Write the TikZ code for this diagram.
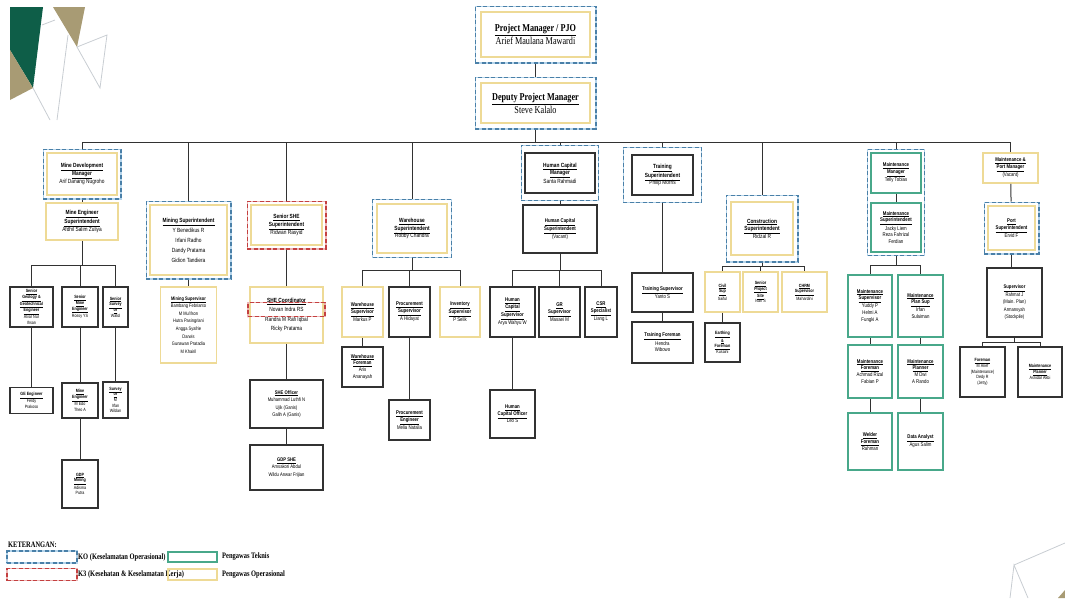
\documentclass[tikz,border=0pt]{standalone}
\usepackage{fontspec}
\setmainfont{Liberation Serif}
\newfontfamily\narrowsans[FakeStretch=0.8]{Liberation Sans}
\newfontfamily\narrowserif[FakeStretch=0.78]{Liberation Serif}
\usetikzlibrary{positioning,fit}
\definecolor{koblue}{RGB}{74,128,168}
\definecolor{kolight}{RGB}{180,212,235}
\definecolor{kred}{RGB}{196,64,64}
\definecolor{kredlight}{RGB}{236,180,180}
\definecolor{tkgreen}{RGB}{72,168,138}
\definecolor{opyellow}{RGB}{238,218,150}
\definecolor{boxgray}{RGB}{50,50,50}
\definecolor{decogreen}{RGB}{14,94,72}
\definecolor{decokhaki}{RGB}{168,155,116}
\definecolor{decoline}{RGB}{200,205,210}
\newcommand{\tpfont}{\narrowserif\fontsize{10.5}{13}\selectfont}
\newcommand{\lgdfont}{\narrowserif\fontsize{8.3}{10}\selectfont\bfseries}
\newcommand{\hdfont}{\narrowsans\fontsize{6}{7.6}\selectfont}
\newcommand{\smfont}{\narrowsans\fontsize{5.4}{6.9}\selectfont}
\newcommand{\xsfont}{\narrowsans\fontsize{4.6}{5.7}\selectfont}
\newcommand{\ttl}[1]{\textbf{\underline{#1}}}

\begin{document}
\begin{tikzpicture}[
  x=1pt, y=-1pt,
  box/.style={draw, fill=white, align=center, inner sep=1pt},
  ybox/.style={box, draw=opyellow, line width=1.6pt},
  gbox/.style={box, draw=tkgreen, line width=1.6pt},
  kbox/.style={box, draw=boxgray, line width=1.3pt},
  ko/.style={draw=koblue, dash pattern=on 4pt off 2.5pt, line width=1.4pt, inner sep=3pt,
    preaction={draw=kolight, line width=1.4pt, solid}},
  kthree/.style={draw=kred, dash pattern=on 4pt off 2.5pt, line width=1.4pt, inner sep=3pt,
    preaction={draw=kredlight, line width=1.4pt, solid}},
  link/.style={draw=boxgray, line width=1pt}
]
\useasboundingbox (0,0) rectangle (1065,598);

% corner decoration
\fill[decogreen] (10,7) -- (43,7) -- (33,88) -- (10,50) -- cycle;
\fill[decokhaki] (10,50) -- (33,88) -- (10,100) -- cycle;
\fill[decokhaki] (53,7) -- (85,7) -- (77,47) -- cycle;
\draw[decoline, line width=0.8pt] (33,88) -- (50,120) (68,35) -- (57,120) (42,25) -- (55,20)
  (77,47) -- (107,35) -- (100,88) -- cycle;
\draw[decoline, line width=0.8pt] (1010,598) -- (1014,565) -- (1028,598) (1014,565) -- (1065,543);
\fill[decokhaki] (1058,598) -- (1065,590) -- (1065,598) -- cycle;

% top
\node[ybox, minimum width=109pt, minimum height=45pt, font=\tpfont] (pm) at (535.5,34.5)
  {\ttl{Project Manager / PJO}\\Arief Maulana Mawardi};
\node[ko, fit=(pm), inner sep=5pt] (pmko) {};
\node[ybox, minimum width=109pt, minimum height=40pt, font=\tpfont] (dep) at (535.5,103)
  {\ttl{Deputy Project Manager}\\Steve Kalalo};
\node[ko, fit=(dep), inner sep=5pt] (depko) {};

% mine development
\node[ybox, minimum width=70pt, minimum height=42pt, font=\hdfont] (mdm) at (82,174)
  {\ttl{Mine Development}\\\ttl{Manager}\\Arif Danang Nugroho};
\node[ko, fit=(mdm)] (mdmko) {};
\node[ybox, minimum width=72pt, minimum height=37pt, font=\hdfont] (mes) at (82,221.5)
  {\ttl{Mine Engineer}\\\ttl{Superintendent}\\Afdhil Salim Zuliya};
\node[kbox, minimum width=43pt, minimum height=40pt, font=\xsfont] (sgge) at (31.5,307)
  {\ttl{Senior}\\\ttl{Geology \&}\\\ttl{Geotechnical}\\\ttl{Engineer}\\Alvar Nur\\Ihsan};
\node[kbox, minimum width=36pt, minimum height=40pt, font=\xsfont] (sme) at (80,307)
  {\ttl{Senior}\\\ttl{Mine}\\\ttl{Engineer}\\Rossy YS};
\node[kbox, minimum width=25pt, minimum height=40pt, font=\xsfont] (ssv) at (115.5,307)
  {\ttl{Senior}\\\ttl{Survey}\\\ttl{or}\\Walid};
\node[kbox, minimum width=43pt, minimum height=26pt, font=\xsfont] (gee) at (31.5,400.5)
  {\ttl{GE Engineer}\\Ferdy\\Prakoso};
\node[kbox, minimum width=36pt, minimum height=35pt, font=\xsfont] (mne) at (80,400.5)
  {\ttl{Mine}\\\ttl{Engineer}\\M Edo\\Theo A};
\node[kbox, minimum width=25pt, minimum height=36pt, font=\xsfont] (svy) at (115.5,400)
  {\ttl{Survey}\\\ttl{or}\\M\\Irfan\\Wildan};
\node[kbox, minimum width=36pt, minimum height=48pt, font=\xsfont] (gdpm) at (80,484)
  {\ttl{GDP}\\\ttl{Mining}\\Adisma\\Putra};

% mining
\node[ybox, minimum width=77pt, minimum height=70pt, font={\narrowsans\fontsize{6}{10}\selectfont}] (msi) at (188.5,240)
  {\ttl{Mining Superintendent}\\Y Benedikus R\\Irfani Radho\\Dandy Pratama\\Gidion Tandiera};
\node[ko, fit=(msi)] (msiko) {};
\node[ybox, minimum width=56pt, minimum height=76pt, font={\narrowsans\fontsize{5}{7.6}\selectfont}] (msv) at (188.5,325)
  {\ttl{Mining Supervisor}\\Bambang Febrianto\\M Mu'ifson\\Hutra Pasingriani\\Angga Syafrie\\Darwis\\Gunawan Pratadia\\M Khairil};

% she
\node[ybox, minimum width=71pt, minimum height=40pt, font=\hdfont] (shes) at (286.5,225)
  {\ttl{Senior SHE}\\\ttl{Superintendent}\\Ridwan Rasyid};
\node[kthree, fit=(shes)] (sheko) {};
\node[ybox, minimum width=73pt, minimum height=56pt, font={\narrowsans\fontsize{6}{9.5}\selectfont}] (shec) at (286.5,315)
  {\ttl{SHE Coordinator}\\Novan Indra RS\\Randra M Rafi Iqbal\\Ricky Pratama};
\node[kthree, minimum width=77pt, minimum height=14pt] (novan) at (286.5,309.5) {};
\node[kbox, minimum width=73pt, minimum height=48pt, font={\narrowsans\fontsize{5.2}{7.5}\selectfont}] (sheo) at (286.5,404)
  {\ttl{SHE Officer}\\Muhammad Luthfi N\\Ujik (Ganis)\\Galih A (Ganis)};
\node[kbox, minimum width=73pt, minimum height=45pt, font={\narrowsans\fontsize{5.2}{7.5}\selectfont}] (gdps) at (286.5,467.5)
  {\ttl{GDP SHE}\\Amsakori Abdul\\Wildu Anwar Frijian};

% warehouse
\node[ybox, minimum width=70pt, minimum height=49pt, font=\hdfont] (whsi) at (412,228.5)
  {\ttl{Warehouse}\\\ttl{Superintendent}\\Robby Chandra};
\node[ko, fit=(whsi), inner sep=3.5pt] (whsiko) {};
\node[ybox, minimum width=41pt, minimum height=50pt, font=\smfont] (whsv) at (362.5,312)
  {\ttl{Warehouse}\\\ttl{Supervisor}\\Markus P};
\node[kbox, minimum width=41pt, minimum height=50pt, font=\smfont] (prsv) at (409.5,312)
  {\ttl{Procurement}\\\ttl{Supervisor}\\A Hidayat};
\node[ybox, minimum width=40pt, minimum height=50pt, font=\smfont] (ivsv) at (460,312)
  {\ttl{Inventory}\\\ttl{Supervisor}\\P Selik};
\node[kbox, minimum width=41pt, minimum height=40pt, font=\smfont] (whfm) at (362.5,367)
  {\ttl{Warehouse}\\\ttl{Foreman}\\Aris\\Ananayah};
\node[kbox, minimum width=41pt, minimum height=40pt, font=\smfont] (preg) at (409.5,420)
  {\ttl{Procurement}\\\ttl{Engineer}\\Melia Natalia};

% human capital
\node[kbox, minimum width=70pt, minimum height=40pt, font=\hdfont] (hcm) at (560,173)
  {\ttl{Human Capital}\\\ttl{Manager}\\Santa Rahmadi};
\node[ko, fit=(hcm), inner xsep=3pt, inner ysep=7pt] (hcmko) {};
\node[kbox, minimum width=74pt, minimum height=48pt, font=\smfont] (hcsi) at (560,229)
  {\ttl{Human Capital}\\\ttl{Superintendent}\\(Vacant)};
\node[kbox, minimum width=45pt, minimum height=50pt, font=\smfont] (hcsv) at (512.5,312)
  {\ttl{Human}\\\ttl{Capital}\\\ttl{Supervisor}\\Arya Wahyu W};
\node[kbox, minimum width=41pt, minimum height=50pt, font=\smfont] (grsv) at (559.5,312)
  {\ttl{GR}\\\ttl{Supervisor}\\Masaei M};
\node[kbox, minimum width=32pt, minimum height=50pt, font=\smfont] (csrs) at (601,312)
  {\ttl{CSR}\\\ttl{Specialist}\\Liang L};
\node[kbox, minimum width=45pt, minimum height=48pt, font=\smfont] (hcof) at (512.5,414)
  {\ttl{Human}\\\ttl{Capital Officer}\\Leo S};

% training
\node[kbox, minimum width=61pt, minimum height=40pt, font=\hdfont] (trsi) at (662.5,175)
  {\ttl{Training}\\\ttl{Superintendent}\\Philip Morris};
\node[ko, fit=(trsi), inner xsep=8pt, inner ysep=7pt] (trsiko) {};
\node[kbox, minimum width=61pt, minimum height=39pt, font=\smfont] (trsv) at (662.5,292.5)
  {\ttl{Training Supervisor}\\Yanto S};
\node[kbox, minimum width=61pt, minimum height=41pt, font=\smfont] (trfm) at (662.5,342.5)
  {\ttl{Training Foreman}\\Hendra\\Wibowo};

% construction
\node[ybox, minimum width=62pt, minimum height=53pt, font=\hdfont] (cnsi) at (762,228.5)
  {\ttl{Construction}\\\ttl{Superintendent}\\Ridzal R};
\node[ko, fit=(cnsi), inner xsep=4pt, inner ysep=6pt] (cnsiko) {};
\node[ybox, minimum width=35pt, minimum height=40pt, font=\xsfont] (cvsp) at (722.5,292)
  {\ttl{Civil}\\\ttl{Sup}\\Saiful};
\node[ybox, minimum width=35pt, minimum height=40pt, font=\xsfont] (spsi) at (760.5,292)
  {\ttl{Senior}\\\ttl{Project}\\\ttl{Site}\\Ivan S};
\node[ybox, minimum width=45pt, minimum height=40pt, font=\xsfont] (chrm) at (804.5,292)
  {\ttl{CHRM}\\\ttl{Supervisor}\\Mahardini};
\node[kbox, minimum width=35pt, minimum height=39pt, font=\xsfont] (eafm) at (722.5,342.5)
  {\ttl{Earthing}\\\ttl{\&}\\\ttl{Foreman}\\Kusaini};

% maintenance
\node[gbox, minimum width=50pt, minimum height=40pt, font=\smfont] (mtm) at (896,173)
  {\ttl{Maintenance}\\\ttl{Manager}\\Telly Tobias};
\node[gbox, minimum width=50pt, minimum height=49pt, font=\smfont] (mtsi) at (896,227.5)
  {\ttl{Maintenance}\\\ttl{Superintendent}\\Jacky Liem\\Reza Fahrizal\\Ferdian};
\node[ko, fit=(mtm)(mtsi), inner sep=2.5pt] (mtko) {};
\node[gbox, minimum width=44pt, minimum height=62pt, font=\smfont] (mtsv) at (870,306)
  {\ttl{Maintenance}\\\ttl{Supervisor}\\Yuddy P\\Helmi A\\Fungki A};
\node[gbox, minimum width=45pt, minimum height=62pt, font=\smfont] (mtps) at (920.5,306)
  {\ttl{Maintenance}\\\ttl{Plan Sup}\\Irfan\\Sulaiman};
\node[gbox, minimum width=44pt, minimum height=53pt, font=\smfont] (mtfm) at (870,371.5)
  {\ttl{Maintenance}\\\ttl{Foreman}\\Achmad Rizal\\Fabian P};
\node[gbox, minimum width=45pt, minimum height=53pt, font=\smfont] (mtpl) at (920.5,371.5)
  {\ttl{Maintenance}\\\ttl{Planner}\\M Dwi\\A Rando};
\node[gbox, minimum width=44pt, minimum height=57pt, font=\smfont] (wdfm) at (870,441.5)
  {\ttl{Welder}\\\ttl{Foreman}\\Rahman};
\node[gbox, minimum width=45pt, minimum height=57pt, font=\smfont] (dtan) at (920.5,441.5)
  {\ttl{Data Analyst}\\Agus Salim};

% maintenance & port
\node[ybox, minimum width=55pt, minimum height=30pt, font=\smfont] (mpm) at (1010.5,168)
  {\ttl{Maintenance \&}\\\ttl{Port Manager}\\(Vacant)};
\node[ybox, minimum width=47pt, minimum height=44pt, font=\smfont] (ptsi) at (1011.5,228)
  {\ttl{Port}\\\ttl{Superintendent}\\Ervid F};
\node[ko, fit=(ptsi)] (ptko) {};
\node[kbox, minimum width=55pt, minimum height=69pt, font={\narrowsans\fontsize{5.2}{7.5}\selectfont}] (psv) at (1014.5,302.5)
  {\ttl{Supervisor}\\Rahmat J\\(Main. Plan)\\Armansyah\\(Stockpile)};
\node[kbox, minimum width=45pt, minimum height=50pt, font=\xsfont] (pfm) at (982.5,372)
  {\ttl{Foreman}\\M Arief\\(Maintenance)\\Dedy R\\(Jetty)};
\node[kbox, minimum width=44pt, minimum height=50pt, font=\xsfont] (ppl) at (1040,372)
  {\ttl{Maintenance}\\\ttl{Planner}\\Asnidar Akbi};

% connectors
\coordinate (bus) at (0,142);
\draw[link] (pmko) -- (depko);
\draw[link] (depko.south) -- (depko.south |- bus);
\draw[link] (bus -| mdmko.north) -- (bus -| mpm.north);
\foreach \h in {mdmko,msiko,sheko,whsiko,hcmko,trsiko,cnsiko,mtko,mpm}
  \draw[link] (bus -| \h.north) -- (\h.north);

\coordinate (mebus) at (0,265);
\draw[link] (mdmko) -- (mes);
\draw[link] (mes.south) -- (mes.south |- mebus);
\draw[link] (sgge.north |- mebus) -- (ssv.north |- mebus);
\foreach \c in {sgge,sme,ssv}
  \draw[link] (\c.north |- mebus) -- (\c.north);
\draw[link] (sgge) -- (gee);
\draw[link] (sme) -- (mne);
\draw[link] (ssv) -- (svy);
\draw[link] (mne) -- (gdpm);

\draw[link] (msiko) -- (msv);

\draw[link] (sheko) -- (shec);
\draw[link] (shec) -- (sheo);
\draw[link] (sheo) -- (gdps);

\coordinate (whbus) at (0,270);
\draw[link] (whsiko.south) -- (whsiko.south |- whbus);
\draw[link] (whsv.north |- whbus) -- (ivsv.north |- whbus);
\foreach \c in {whsv,prsv,ivsv}
  \draw[link] (\c.north |- whbus) -- (\c.north);
\draw[link] (whsv) -- (whfm);
\draw[link] (prsv) -- (preg);

\coordinate (hcbus) at (0,270);
\draw[link] (hcmko) -- (hcsi);
\draw[link] (hcsi.south) -- (hcsi.south |- hcbus);
\draw[link] (hcsv.north |- hcbus) -- (csrs.north |- hcbus);
\foreach \c in {hcsv,grsv,csrs}
  \draw[link] (\c.north |- hcbus) -- (\c.north);
\draw[link] (hcsv) -- (hcof);

\draw[link] (trsiko) -- (trsv);
\draw[link] (trsv) -- (trfm);

\coordinate (cnbus) at (0,266);
\draw[link] (cnsiko.south) -- (cnsiko.south |- cnbus);
\draw[link] (cvsp.north |- cnbus) -- (chrm.north |- cnbus);
\foreach \c in {cvsp,spsi,chrm}
  \draw[link] (\c.north |- cnbus) -- (\c.north);
\draw[link] (cvsp) -- (eafm);

\coordinate (mtbus) at (0,265);
\draw[link] (mtm) -- (mtsi);
\draw[link] (mtko.south) -- (mtko.south |- mtbus);
\draw[link] (mtsv.north |- mtbus) -- (mtps.north |- mtbus);
\foreach \c in {mtsv,mtps}
  \draw[link] (\c.north |- mtbus) -- (\c.north);
\draw[link] (mtsv) -- (mtfm);
\draw[link] (mtfm) -- (wdfm);
\draw[link] (mtps) -- (mtpl);
\draw[link] (mtpl) -- (dtan);

\coordinate (ptbus) at (0,342);
\draw[link] (mpm) -- (ptko);
\draw[link] (ptko.south) -- (ptko.south |- psv.north);
\draw[link] (psv.south) -- (psv.south |- ptbus);
\draw[link] (pfm.north |- ptbus) -- (ppl.north |- ptbus);
\foreach \c in {pfm,ppl}
  \draw[link] (\c.north |- ptbus) -- (\c.north);

% legend
\node[anchor=west, inner sep=0pt, font=\lgdfont] (ket) at (8,545) {KETERANGAN:};
\node[ko, inner sep=0pt, minimum width=70pt, minimum height=12pt] (lgko) at (42,557) {};
\node[kthree, inner sep=0pt, minimum width=70pt, minimum height=12pt] (lgkthree) at (42,574.5) {};
\node[anchor=west, inner sep=0pt, font=\lgdfont] (lgkotext) at (78,557) {KO (Keselamatan Operasional)};
\node[anchor=west, inner sep=0pt, font=\lgdfont] (lgk3text) at (78,574.5) {K3 (Kesehatan \& Keselamatan Kerja)};
\node[draw=tkgreen, line width=1.4pt, inner sep=0pt, minimum width=49pt, minimum height=10pt] (lgtek) at (192.5,557) {};
\node[draw=opyellow, line width=1.4pt, inner sep=0pt, minimum width=49pt, minimum height=11pt] (lgops) at (192.5,574.5) {};
\node[anchor=west, inner sep=0pt, font=\lgdfont] (lgtektext) at (222,557) {Pengawas Teknis};
\node[anchor=west, inner sep=0pt, font=\lgdfont] (lgopstext) at (222,574.5) {Pengawas Operasional};
\end{tikzpicture}
\end{document}
